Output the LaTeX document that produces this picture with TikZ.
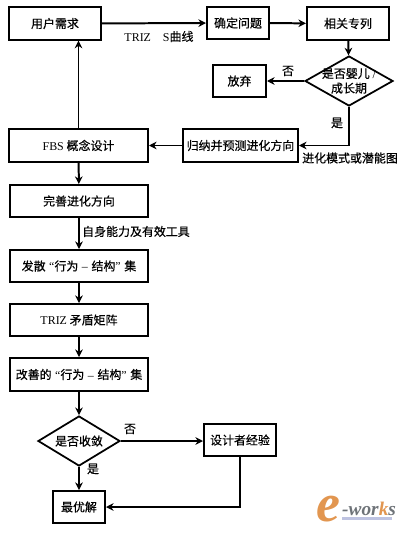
\documentclass[tikz,border=0pt]{standalone}
\usepackage{fontspec}
\setmainfont{Liberation Serif}
\newfontfamily\zhfont[RawFeature={embolden=0.5}]{Noto Sans CJK SC}
\usetikzlibrary{arrows.meta,shapes.geometric}
\definecolor{logoorange}{RGB}{226,150,80}
\definecolor{logogrey}{RGB}{110,115,120}
\definecolor{logobar}{RGB}{190,195,225}
\newcommand{\zhtext}{\fontsize{10.2}{12.5}\selectfont\zhfont}
\newcommand{\latin}[1]{{\rmfamily #1}}
\newcommand{\gap}{\hspace{0.3em}}
\tikzset{
  step box/.style={
    rectangle, draw=black, line width=1.7pt, fill=white, inner sep=0pt,
    font=\zhtext, align=center
  },
  choice box/.style={
    diamond, draw=black, line width=1.5pt, fill=white, inner sep=0pt, aspect=1.7
  },
  choice text/.style={font=\zhtext, align=center},
  flow/.style={draw=black, line width=1.7pt, -{Stealth[length=6.5pt,width=6.5pt]}},
  side text/.style={font=\zhtext, inner sep=0pt}
}

\begin{document}
\begin{tikzpicture}[x=0.03cm, y=-0.03cm]
  \useasboundingbox (0,0) rectangle (406,533);

% ------------------------------------------------
% top row and the first decision
% ------------------------------------------------
  \node[step box, minimum width=2.76cm, minimum height=0.97cm] (need)   at ( 55,23.5) {用户需求};
  \node[step box, minimum width=1.86cm, minimum height=0.96cm] (define) at (238,23) {确定问题};
  \node[step box, minimum width=2.46cm, minimum height=0.97cm] (patent) at (348,23.5) {相关专列};
  \node[choice box, minimum width=2.64cm, minimum height=1.5cm,
        label={[choice text]center:是否婴儿\latin{ /}\\成长期}] (infant) at (349,81) {};
  \node[step box, minimum width=1.59cm, minimum height=0.96cm] (quit)   at (239.5,81) {放弃};

% ------------------------------------------------
% second row
% ------------------------------------------------
  \node[step box, minimum width=3.45cm, minimum height=0.97cm] (predict) at (240.5,145.5) {归纳并预测进化方向};
  \node[step box, minimum width=4.17cm, minimum height=0.97cm] (fbs)     at (78.5,145.5) {\latin{FBS} 概念设计};

% ------------------------------------------------
% left column
% ------------------------------------------------
  \node[step box, minimum width=4.14cm, minimum height=0.96cm] (refine)  at (79,201) {完善进化方向};
  \node[step box, minimum width=4.14cm, minimum height=0.96cm] (diverge) at (79,266) {发散\gap{}\latin{“}行为\gap{}\latin{–}\gap{}结构\latin{”}\gap{}集};
  \node[step box, minimum width=4.14cm, minimum height=0.96cm] (matrix)  at (79,320) {\latin{TRIZ} 矛盾矩阵};
  \node[step box, minimum width=4.14cm, minimum height=0.99cm] (better)  at (79,374.5) {改善的\gap{}\latin{“}行为\gap{}\latin{–}\gap{}结构\latin{”}\gap{}集};
  \node[choice box, minimum width=2.46cm, minimum height=1.5cm,
        label={[choice text]center:是否收敛}] (converge) at (79,441) {};
  \node[step box, minimum width=2.16cm, minimum height=0.96cm] (expert)  at (240,440) {设计者经验};
  \node[step box, minimum width=1.56cm, minimum height=0.96cm] (best)    at (79,507) {最优解};

% ------------------------------------------------
% connectors
% ------------------------------------------------
  \draw[flow] (need) -- (define);
  \draw[flow] (define) -- (patent);
  \draw[flow] (patent) -- (infant);
  \draw[flow] (infant) -- (quit);
  \draw[flow] (infant.south) |- (predict.east);
  \draw[flow] (predict) -- (fbs);
  \draw[flow] (fbs.north) -- (fbs.north |- need.south);
  \draw[flow] (fbs) -- (refine);
  \draw[flow] (refine) -- (diverge);
  \draw[flow] (diverge) -- (matrix);
  \draw[flow] (matrix) -- (better);
  \draw[flow] (better) -- (converge);
  \draw[flow] (converge) -- (expert.west |- converge);
  \draw[flow] (converge) -- (best);
  \draw[flow] (expert.south) |- (best.east);

% ------------------------------------------------
% labels on the connectors
% ------------------------------------------------
  \node[side text] (curve)  at (159,36.5) {\latin{TRIZ\quad S}曲线};
  \node[side text] (no a)   at (288,71) {否};
  \node[side text] (yes a)  at (337,123) {是};
  \node[side text] (mode)   at (350,158) {进化模式或潜能图};
  \node[side text] (tools)  at (136,231.5) {自身能力及有效工具};
  \node[side text] (no b)   at (130,429) {否};
  \node[side text] (yes b)  at (93,469) {是};

% ------------------------------------------------
% logo
% ------------------------------------------------
  \node[inner sep=0pt, text=logoorange, font=\fontsize{46}{46}\selectfont\itshape\bfseries] (logoe) at (328,509) {e};
  \node[inner sep=0pt, anchor=west, font=\fontsize{16.5}{16.5}\selectfont\itshape\bfseries, text=logogrey] (logotext)
    at (342,509) {-wor\textcolor{logoorange}{k}s};
  \fill[logobar] (342,517) rectangle (392,520);
\end{tikzpicture}
\end{document}
